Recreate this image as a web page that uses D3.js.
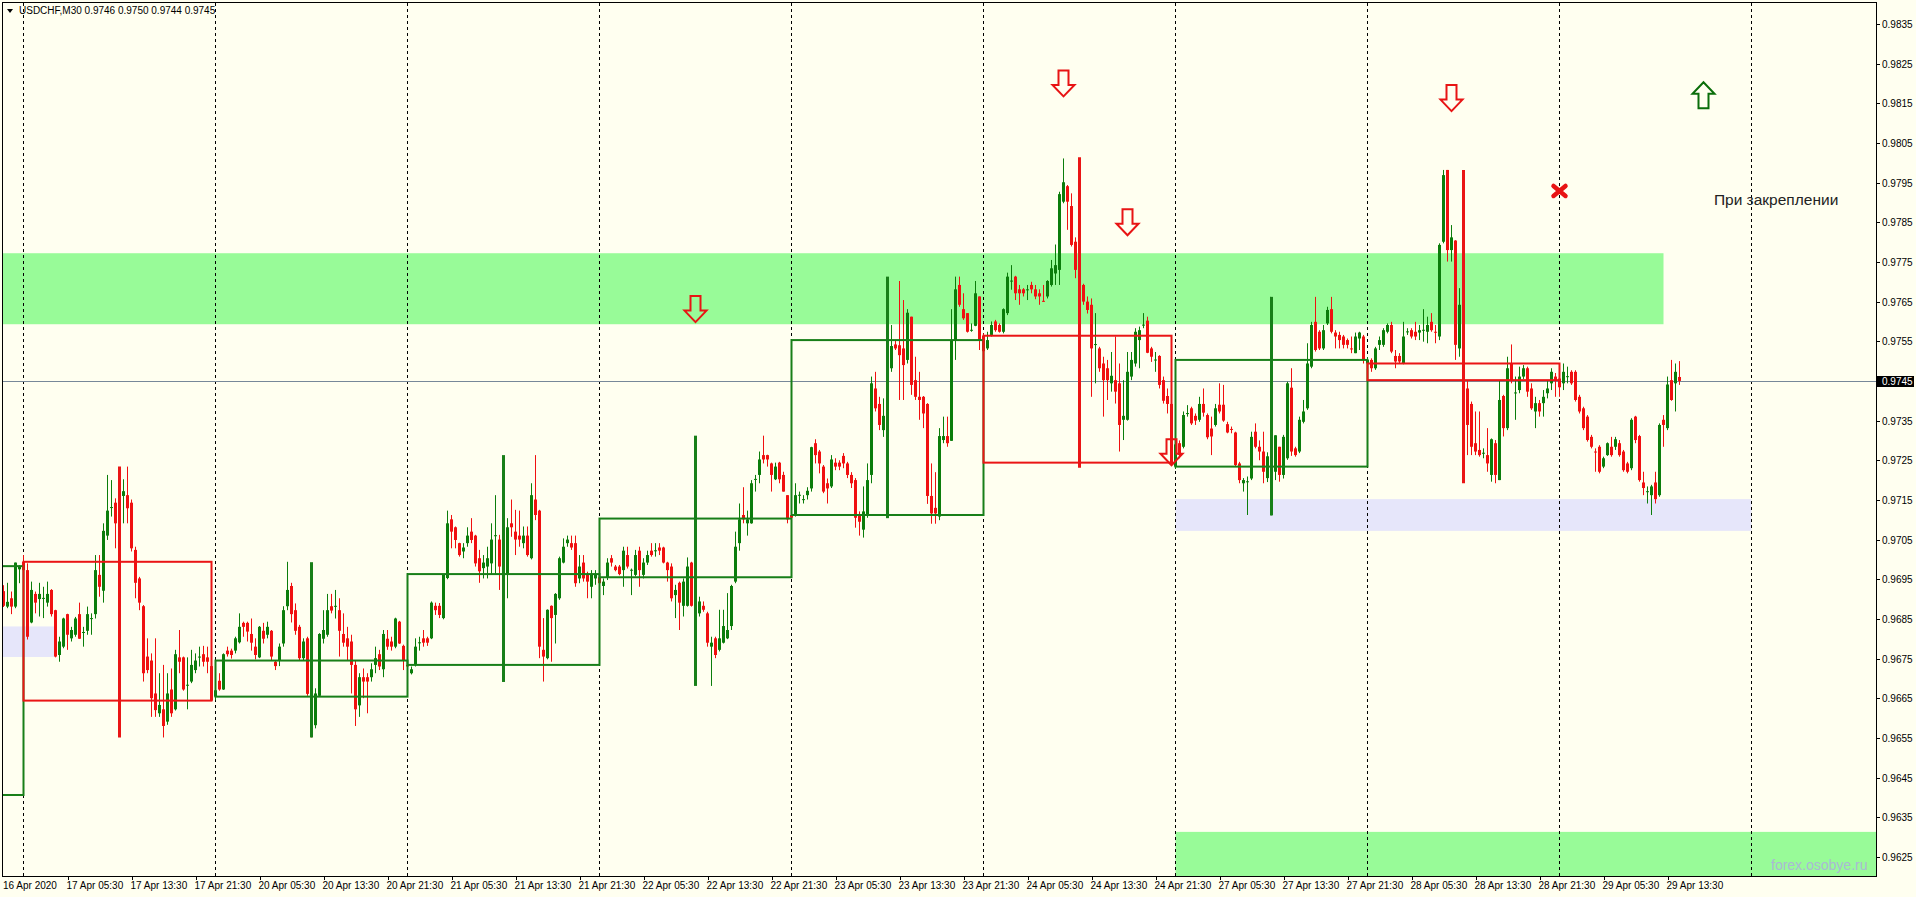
<!DOCTYPE html>
<html><head><meta charset="utf-8">
<script src="https://cdn.jsdelivr.net/npm/d3@7"></script>
<style>html,body{margin:0;padding:0;background:#fffff0;overflow:hidden}</style>
</head><body><svg id="c" width="1916" height="897"></svg>
<script>
// ---- DATA (prices in pips: 9745 = 0.9745), each bar [open, high, low, close] ----
const day16=[[9692,9693.5,9688,9688.3],[9688.1,9694.1,9687.7,9689.3],[9690.2,9691.9,9686.2,9688.1],[9688.1,9699.2,9687.7,9699.2],[9697.5,9698.5,9694,9698.3]];
const day17=[[9699.4,9701.1,9695.5,9697.3],[9697.3,9699,9679.8,9680.5],[9684.1,9694.4,9683.9,9692.3],[9691.3,9691.9,9686.4,9689.1],[9690,9694.1,9685.6,9691.3],[9690.2,9693.1,9685.2,9690.3],[9689.1,9694.4,9688.1,9691.3],[9692.3,9692.5,9685.6,9686.2],[9687.2,9687.3,9675.3,9675.5],[9675.9,9680.5,9674.2,9679.3],[9678,9685.3,9677.6,9685.1],[9686.2,9686.3,9677.2,9681],[9680.1,9683,9679.3,9682.2],[9681,9685.5,9680.5,9685.1],[9686.2,9689.1,9680,9680],[9681.5,9683,9678,9681.7],[9682,9688.1,9681,9686.2],[9685.1,9686.4,9681,9685.2],[9686.2,9701.1,9685.1,9697.3],[9696.1,9701.1,9690.6,9693.1],[9692.1,9709.1,9689.1,9707.2],[9706,9721.3,9704.9,9712.3],[9713,9720,9710.8,9713.2],[9714.3,9715.4,9702.8,9709.1],[9709.1,9716,9706,9714],[9716,9720.2,9709.1,9717.2],[9716.2,9723.4,9709.1,9712.9],[9714.3,9715.1,9702,9702.8],[9702.4,9703.2,9690.2,9694.1],[9695.2,9695.6,9687.2,9689.1],[9688.2,9688.5,9669.2,9671.3],[9675.5,9680.1,9671.3,9672.1],[9674.5,9676.3,9660.3,9665],[9666.2,9680.1,9660.3,9662],[9661.2,9671.3,9660.3,9663.3],[9662.2,9673.4,9655.1,9658],[9659.1,9671.3,9658.3,9666.2],[9667.2,9672.5,9660.3,9661.2],[9662.2,9677.2,9661.9,9676.1],[9675.3,9682.2,9671.3,9674.2],[9675.3,9675.5,9666.9,9667.2],[9668.3,9675.3,9662.2,9668.4],[9669.2,9677.2,9668.8,9673.4],[9672.1,9676.3,9671.3,9674.5],[9675.4,9678,9673,9675.5],[9676.1,9678.2,9673,9674.2],[9675.3,9678,9671.3,9674.2],[9673.1,9673.4,9664.4,9664.4]];
const day20=[[9665.4,9668,9664.5,9667],[9669.4,9671.3,9666.9,9667.2],[9667.2,9676.3,9667.1,9676.1],[9677,9678,9675.5,9676.1],[9677,9677.5,9675,9675.9],[9677,9680.5,9676.3,9680.1],[9679.1,9686.4,9678.8,9683],[9684,9684.3,9680.5,9683],[9684,9684.3,9679.3,9681.8],[9681.2,9685.1,9677,9679],[9678,9680.1,9674.8,9675.9],[9675.3,9683.2,9675.1,9683],[9682,9684,9678.8,9680],[9681,9684.3,9680.1,9683],[9682,9682.2,9674.6,9675.5],[9674.2,9674.6,9672.1,9673.1],[9674.5,9678.8,9673.1,9678],[9678.8,9688.2,9678,9687.2],[9688.2,9699.4,9687.2,9692.3],[9693.3,9694.1,9684.1,9686.2],[9687.2,9688.9,9681,9682],[9683,9683.5,9674.5,9675.1],[9675.1,9680.1,9674.6,9679.3],[9680.1,9680.5,9665.6,9666.1],[9666.1,9667.5,9655.1,9658.2],[9658.2,9667.5,9657.4,9666.2],[9665.6,9681.4,9665.4,9681.2],[9680,9687.2,9678.8,9682.2],[9681,9691.3,9680.5,9687.2],[9688.2,9691.3,9686.4,9687.1],[9688.2,9692.3,9685.1,9688.3],[9687.2,9690.2,9675.5,9682],[9681.2,9686.4,9678,9679],[9680.1,9683,9674.6,9678],[9679.3,9681,9666.2,9673.4],[9673.4,9674.6,9658,9662.2],[9663.2,9671.3,9660.3,9670.3],[9670.3,9672.5,9665,9669.2],[9670.3,9671.3,9661.2,9669.2],[9670.3,9673.8,9669.2,9672.3],[9673.4,9678,9671.3,9675.1],[9676.1,9677.2,9672.1,9673],[9672.3,9682.2,9670.3,9681.2],[9680,9682.2,9677.2,9678],[9679.3,9680.5,9677,9678],[9678,9685.3,9677.6,9685.1],[9684.3,9684.5,9678.7,9678.8],[9678.2,9678.5,9672.1,9674.5]];
const day21=[[9673.4,9675,9672,9673],[9671.3,9673,9671,9672.3],[9673.6,9680.1,9673,9678],[9679,9680.5,9677,9679.1],[9680.1,9682.2,9678,9679],[9680.1,9680.5,9678.2,9679],[9680.1,9689.4,9679.9,9689.1],[9688.3,9689.1,9686,9687.2],[9688.3,9689,9685.2,9686],[9685.2,9696.3,9684.9,9696.1],[9695.3,9712.3,9695,9709.1],[9710.1,9711.2,9702.8,9707],[9708.1,9708.3,9702.8,9704.9],[9704.1,9704.2,9700.7,9701.1],[9702,9704.1,9700.3,9703],[9704.1,9708.1,9703.2,9706],[9707,9710.4,9704.1,9704.9],[9706,9706.2,9698.2,9699],[9700.3,9702.4,9694.1,9697],[9697.8,9701.1,9695.2,9699.2],[9698.2,9703.2,9695.2,9700.3],[9699,9709.1,9696.3,9705],[9706,9716.2,9696.1,9706.1],[9705,9706.2,9692.3,9698.2],[9698.2,9700,9695.5,9696.3],[9696.3,9710.4,9690.2,9708.1],[9709.1,9715.1,9705.7,9708.1],[9707,9712.5,9701.1,9705],[9706,9712.3,9703.2,9705],[9704.1,9708.3,9702.8,9706],[9706,9708.3,9700.7,9701.1],[9700.3,9719.2,9700,9716.2],[9715.1,9726.3,9709.9,9711.2],[9712.3,9712.5,9675.1,9678],[9677.2,9685.2,9669.2,9675.5],[9675.1,9687.4,9674.8,9687.3],[9688.3,9688.4,9674.2,9685.2],[9686,9691.5,9678.8,9691.3],[9690.2,9700.7,9689.8,9700.3],[9699.2,9705.3,9699,9703.2],[9704.1,9706,9703.2,9705],[9704.1,9706,9702.4,9703],[9704.1,9706,9693.1,9694],[9695.2,9701.1,9694,9698.2],[9699.2,9701.1,9694.4,9695.2],[9696.3,9696.9,9690.2,9694.4],[9693.1,9697.3,9690.2,9696.3],[9695.2,9697.3,9693.6,9696.3]];
const day22=[[9695.5,9696.5,9693,9694],[9693.3,9695.2,9691,9694.4],[9695.5,9700.3,9694.8,9699.2],[9700.3,9701.1,9698.2,9699.2],[9698.2,9698.6,9697,9697.3],[9698.2,9698.6,9696,9696.3],[9697.3,9703.2,9693.1,9702.2],[9701.1,9703.2,9697.7,9698.2],[9697.3,9697.7,9691,9697.4],[9696.1,9702.4,9695.7,9701.1],[9702.2,9703.2,9693.1,9697.3],[9696.1,9700.3,9695.2,9699.2],[9699.2,9702.2,9698.6,9701.1],[9702.2,9704.1,9700.7,9701.1],[9702.2,9704.1,9700.7,9702.3],[9703,9704.1,9701.1,9702.2],[9703,9703.2,9699,9699.2],[9699.2,9699.4,9694.4,9697.3],[9698.2,9699,9689.4,9690.2],[9691,9693.6,9685.2,9692.3],[9694.1,9694.4,9682.2,9689.1],[9688.3,9695.2,9685.6,9694.4],[9688.3,9700.5,9688.1,9698.2],[9699.2,9699.4,9688.1,9688.3],[9688.3,9690,9684,9686.4],[9686.4,9690.6,9685.6,9689.4],[9688.3,9689.4,9686.8,9687.3],[9686.4,9686.8,9678,9679],[9678,9680.5,9668.1,9679],[9680.1,9680.5,9675.1,9675.9],[9677.2,9687.3,9676.8,9680.1],[9679,9687.3,9678.8,9683.2],[9680.1,9691.5,9679.9,9682.2],[9683.2,9693.6,9682.2,9693.3],[9694.4,9707,9694,9703.2],[9704.1,9714.1,9702.2,9710.1],[9711.2,9718.2,9709.1,9710.1],[9709.1,9712.3,9706,9710.1],[9709.1,9720,9709,9719.2],[9720.2,9721.3,9717.1,9720.3],[9721.3,9727.2,9719.2,9725.2],[9726.3,9731.2,9724.2,9725.2],[9726.3,9726.4,9723.4,9725.2],[9724.2,9724.4,9717.1,9721.3],[9720.2,9724.4,9720,9723.4],[9724.4,9724.6,9719.2,9720.2],[9721.3,9722.1,9717.1,9717.1],[9716.2,9716.2,9709.1,9710.1]];
const day23=[[9711.2,9712,9709.9,9710.5],[9711.2,9719.2,9710.8,9716.2],[9716.2,9717.1,9714.1,9716.3],[9715.1,9716.2,9714.1,9715.2],[9716.2,9718.2,9715.1,9717.3],[9717.9,9728.4,9717.1,9728.3],[9729.3,9730.3,9724.2,9726.3],[9727.2,9727.6,9721.7,9724.2],[9723.4,9723.8,9716.7,9717.1],[9719.2,9720.4,9714.1,9717.9],[9718.4,9726.3,9718,9725.2],[9724.4,9725.5,9722.5,9723.4],[9724.4,9725,9722.5,9723.4],[9726.1,9726.8,9723,9724.2],[9724.2,9724.6,9720.5,9721.3],[9721.3,9722,9718,9719.2],[9720,9720.5,9708,9710.5],[9711,9712.1,9706,9709.5],[9707.5,9718.4,9705.5,9712.1],[9711.2,9724.2,9710.5,9720],[9721.3,9746.1,9719.2,9744.4],[9743.1,9747.3,9737.3,9738.1],[9739.2,9741,9732.6,9733.9],[9732.6,9740.6,9730.9,9736.2],[9736.2,9748,9735,9745],[9748.2,9759.1,9747.3,9753.8],[9754.2,9755.3,9752.8,9753.2],[9754,9770.2,9740.2,9751.5],[9753.2,9765.4,9740.2,9749],[9750.3,9763.1,9749.4,9762.2],[9761.2,9761.2,9741.5,9744],[9745.2,9751.1,9740.2,9741],[9741,9747.3,9735.2,9740.2],[9741,9741.2,9733.1,9736.8],[9739.2,9739.4,9714,9716],[9716,9724.2,9709,9711.6],[9713,9722,9709,9711.6],[9710.8,9733.1,9709.9,9731.1],[9730.1,9736,9729.3,9731.1],[9731.1,9736,9728.4,9729.3],[9729.9,9763.1,9729.9,9755.3],[9755.3,9771.3,9750.3,9768.1],[9769.2,9771.3,9763.7,9764.2],[9763.1,9767.1,9760.4,9760.8],[9762.1,9762.1,9757.2,9757.4],[9757.8,9759.5,9757.4,9757.9],[9758.9,9770.2,9758.8,9767.1],[9766.3,9766.3,9752.8,9755.3]];
const day24=[[9756.4,9757,9751,9752.5],[9753.2,9757.4,9752.8,9755.3],[9756.6,9760,9756.2,9759.1],[9760,9760.4,9757.4,9757.8],[9759.1,9759.5,9757.2,9757.4],[9757.4,9763.3,9757,9763.1],[9762.1,9772.3,9761.6,9771.3],[9770.2,9774.2,9768,9770.3],[9771.3,9771.5,9765.4,9767.1],[9768.1,9769.2,9764.2,9767.1],[9768.1,9768.4,9766.3,9767.1],[9768,9769.2,9765.4,9768.1],[9769.2,9770,9767.1,9768.1],[9768.1,9769.2,9765.6,9766.3],[9767.1,9768.1,9764.2,9766.3],[9765.2,9769.2,9765,9765.1],[9766.3,9770.4,9765.8,9770.2],[9769.2,9775.5,9768.8,9773.4],[9772.1,9779.4,9769.2,9774.2],[9773,9792.7,9769.2,9792.1],[9790.2,9801.1,9789.8,9795.1],[9794.1,9794.4,9783.1,9790.2],[9789.1,9792.3,9778.9,9779.3],[9780.1,9781.2,9770.9,9773],[9773,9775,9768,9769],[9769.2,9769.5,9764.2,9765],[9765,9766.3,9762,9762.9],[9764.2,9765.8,9741,9753.2],[9754.2,9762.1,9744.4,9754.3],[9753.2,9753.6,9747.3,9748.2],[9749.4,9751.1,9736,9745.2],[9748.2,9750.3,9740.2,9745.2],[9744.4,9752.3,9742.3,9746.3],[9745.2,9756.2,9739.3,9742.3],[9744.4,9749.4,9727.2,9733.9],[9735.2,9745.2,9730.1,9736.2],[9735.2,9752.3,9735,9747.3],[9746.1,9752.3,9745.2,9750.3],[9749.4,9758.3,9748.6,9757.4],[9755.3,9758.7,9748.2,9757.8],[9759.1,9762.1,9758.3,9759.2],[9760.2,9761.2,9752,9752.1],[9753.2,9753.6,9749.8,9751.1],[9750.3,9752.3,9747.3,9750.4],[9751.3,9751.5,9743.1,9744],[9745.2,9746.1,9739.3,9740],[9741.2,9743.1,9736.8,9739.2],[9739.2,9739.4,9723.8,9724.2]];
const day27=[[9723.4,9729.5,9722.8,9729],[9729.3,9730,9725.5,9726.3],[9728.4,9737.3,9728,9736.4],[9736.8,9738.9,9736,9736.9],[9738.1,9738.5,9733.9,9734.3],[9736.2,9736.8,9733.9,9735],[9735.2,9741,9734.7,9739.2],[9739.2,9743.1,9736,9737],[9736.4,9736.8,9730.3,9730.8],[9733,9736,9726.3,9731],[9733.9,9739.2,9733.5,9738.1],[9739,9744.4,9736.8,9737.3],[9739,9744,9734.7,9735],[9734.1,9734.7,9731.8,9732],[9732.9,9733.5,9731.8,9732.8],[9732,9732.2,9723.4,9723.8],[9724.2,9724.6,9719.2,9720],[9719.2,9720.5,9717.1,9720],[9719.6,9720.9,9711.2,9719.7],[9720.4,9732.2,9720,9730.9],[9732.2,9734.3,9728,9728.4],[9728.4,9730,9725,9727.2],[9727.2,9732.2,9719.2,9722.1],[9720.5,9727,9719.5,9726],[9722.1,9728,9711.1,9725],[9722.1,9731.3,9720,9731.3],[9728.4,9728.4,9719.6,9721.3],[9721.3,9731.4,9720.4,9730.9],[9725.5,9744.8,9725.1,9744.4],[9743.3,9748.2,9726.1,9727.2],[9728,9728.4,9725.9,9726.3],[9727.2,9736,9726.8,9735.2],[9734.7,9740.2,9734.3,9737.3],[9738.1,9754.5,9737.7,9749.4],[9748.6,9759.9,9748.2,9759.1],[9759.9,9766.2,9752.4,9752.8],[9757.4,9757.8,9752.8,9753.2],[9753.2,9759.1,9752.8,9757.8],[9759.5,9763.7,9759.1,9762.9],[9763.1,9766.2,9757,9757.4],[9757.2,9757.8,9753.2,9756.2],[9756.6,9757.4,9753.2,9755.3],[9756.2,9756.6,9753.2,9754.1],[9755.3,9755.7,9753.2,9754.1],[9753.2,9756.2,9752,9753.1],[9752,9757.2,9752,9756.2],[9755.7,9757.4,9752.8,9757.2],[9756.2,9756.6,9749.4,9750.3]];
const day28=[[9749.4,9751,9748.5,9750.3],[9750.3,9750.7,9747.3,9748.2],[9748.2,9753.6,9747.8,9753.2],[9754.1,9756.2,9752.8,9755.3],[9754.1,9758.3,9753.6,9757.8],[9757.4,9759.5,9757,9759.1],[9759.1,9759.9,9752,9752.4],[9751.3,9752.8,9748.2,9749.9],[9751.3,9752,9749.4,9749.9],[9749.4,9759.9,9749.2,9756.2],[9757.4,9758.3,9756.6,9757.5],[9757.8,9758.3,9755.7,9756.2],[9757.4,9759.9,9755.3,9756.2],[9757.2,9759.1,9755.3,9757.8],[9757.8,9763.1,9754.9,9757.9],[9757.4,9761.2,9754.5,9759.1],[9759.9,9762.1,9757.4,9757.8],[9757.4,9759.1,9754.5,9757.3],[9756.2,9779.7,9755.3,9779.3],[9780.1,9798.2,9779.7,9796.9],[9798.2,9798.2,9775.1,9778],[9778,9784.3,9775.1,9781.2],[9780.4,9780.5,9750.3,9754.1],[9753.2,9768.4,9751.1,9764.2],[9764.2,9766,9740,9743.1],[9743.1,9745.2,9726.3,9733.9],[9739.2,9739.8,9726.3,9728.4],[9729.3,9737.3,9726.3,9727.2],[9727.6,9737.3,9725.9,9726.3],[9726.8,9728,9725.5,9726.9],[9726.3,9733.1,9722.1,9724.2],[9721.3,9730.5,9719.6,9730.3],[9729.3,9730.1,9719.2,9721.3],[9720,9745.2,9720,9740.2],[9741.2,9741.5,9731,9733.1],[9733.1,9751.1,9732.6,9748.2],[9749.4,9754.2,9744.4,9745.2],[9742,9746.1,9735.2,9742.1],[9742.7,9748.6,9741.9,9746.1],[9746.1,9749,9745.5,9748.2],[9748.2,9748.6,9741,9742.3],[9743.1,9744.4,9737.7,9738.1],[9737.3,9741,9733.1,9739.4],[9739.4,9740.2,9736,9737.3],[9739.4,9742.7,9736,9741],[9741.9,9745.2,9740.6,9743.1],[9744.4,9748.2,9742.7,9747.3],[9746.1,9747,9741,9745.2]];
const day29=[[9745.6,9747.7,9741,9743.4],[9744.4,9749.4,9742.7,9747.3],[9746.1,9748.6,9744.4,9746.2],[9747.3,9747.7,9744,9744.4],[9747.3,9747.7,9739.8,9740.2],[9741,9741.5,9736.8,9737.3],[9738.1,9738.5,9732.6,9733.1],[9736,9736.4,9729.7,9730.1],[9730.9,9731.4,9728,9728.4],[9727.2,9728,9722.1,9727.1],[9728.4,9728.8,9721.7,9722.1],[9723.4,9725.9,9723,9725.5],[9726.3,9729.5,9726.1,9729.3],[9728.4,9730.9,9725.9,9726.3],[9728.4,9730.9,9727.6,9730.3],[9729.3,9730.1,9725.9,9726.3],[9727.2,9727.6,9722.1,9722.5],[9724.2,9724.6,9721.7,9722.1],[9723,9735.6,9722.5,9735.2],[9736,9736.2,9729.3,9730.1],[9731.1,9731.4,9719.6,9720],[9719.4,9722.1,9716.2,9718],[9717.1,9718.4,9714.1,9717.2],[9716.2,9718.8,9711.2,9718.4],[9719.4,9722.1,9714.1,9715.2],[9716.2,9734.3,9715.8,9733.9],[9735.2,9736.4,9728.4,9733.9],[9733.1,9746.1,9732.6,9744.1],[9745.2,9750.3,9740,9740.2],[9744.4,9749.4,9737.3,9747.3],[9746,9750,9744,9745]];

const dayDates=[16,17,20,21,22,23,24,27,28,29,30];
const dayBars=[day16,day17,day20,day21,day22,day23,day24,day27,day28,day29];
// daily (D1) candles overlaid as boxes: 16..28 Apr
const dOpen =[9640.6,9699.4,9665.4,9673.4,9695.5,9711.2,9756.4,9723.4,9749.4];
const dHigh =[9705,9723.4,9699.3,9726.3,9731.2,9771.3,9801.4,9766.2,9798.2];
const dLow  =[9630,9655.1,9655.1,9669.1,9668.1,9710.4,9723.1,9711.1,9719.2];
const dClose=[9698.3,9664.4,9674.5,9696.3,9710.3,9755.3,9724.4,9750.3,9745.2];

const yTickLabels=["0.9625","0.9635","0.9645","0.9655","0.9665","0.9675","0.9685","0.9695","0.9705","0.9715","0.9725","0.9735","0.9745","0.9755","0.9765","0.9775","0.9785","0.9795","0.9805","0.9815","0.9825","0.9835"];
const xTickLabels=["16 Apr 2020","17 Apr 05:30","17 Apr 13:30","17 Apr 21:30","20 Apr 05:30","20 Apr 13:30","20 Apr 21:30","21 Apr 05:30","21 Apr 13:30","21 Apr 21:30","22 Apr 05:30","22 Apr 13:30","22 Apr 21:30","23 Apr 05:30","23 Apr 13:30","23 Apr 21:30","24 Apr 05:30","24 Apr 13:30","24 Apr 21:30","27 Apr 05:30","27 Apr 13:30","27 Apr 21:30","28 Apr 05:30","28 Apr 13:30","28 Apr 21:30","29 Apr 05:30","29 Apr 13:30"];

// zones [fromBar, toBar, priceTop, priceBottom]
const zoneGreen=[[-60,410,9777.2,9759.3],[288,480,9631.3,9600]];
const zoneBlue=[[288,432,9715.2,9707.2],[-60,8,9683.1,9675.4]];
// arrows [bar, price(top)]
const arrowsDown=[[168,9766.4],[260,9823.3],[276,9788.3],[287,9730.3],[357,9819.6]];
const arrowsUp=[[420,9820.3]];
const crosses=[[384,9792.9]];
const notes=[[422.6,9789.4,"При закреплении"]];
const title="USDCHF,M30  0.9746 0.9750 0.9744 0.9745";
const bid=9745;

// ---- build bar list ----
const dayStart=[-48]; for(let d=1;d<dayDates.length;d++) dayStart.push(48*(d-1));
const bars=[];
dayBars.forEach((arr,d)=>{const off=(d===0)?48-arr.length:0;arr.forEach((b,j)=>bars.push({k:dayStart[d]+off+j,o:b[0],h:b[1],l:b[2],c:b[3]}));});

const W=1916,H=897,plotR=1876,plotB=876;
const x=d3.scaleLinear().domain([0,1]).range([23.5,27.5]);
const y=d3.scaleLinear().domain([9835,9625]).range([24,24+210*3.966]);
const svg=d3.select('#c');
svg.append('rect').attr('width',W).attr('height',H).attr('fill','#fffff0');
svg.append('clipPath').attr('id','cp').append('rect').attr('x',3).attr('y',3).attr('width',plotR-3).attr('height',plotB-3);
const g=svg.append('g').attr('clip-path','url(#cp)');
const BULL='#0b7d0b',BEAR='#f01010';

// zones
g.selectAll('.zg').data(zoneGreen).join('rect').attr('x',d=>x(d[0])).attr('width',d=>x(d[1])-x(d[0])).attr('y',d=>y(d[2])).attr('height',d=>y(d[3])-y(d[2])).attr('fill','#98fb98');
g.selectAll('.zb').data(zoneBlue).join('rect').attr('x',d=>x(d[0])).attr('width',d=>x(d[1])-x(d[0])).attr('y',d=>y(d[2])).attr('height',d=>y(d[3])-y(d[2])).attr('fill','#e6e6fa');
// day separators
g.selectAll('.sep').data(dayStart.slice(1)).join('line').attr('x1',d=>x(d)).attr('x2',d=>x(d)).attr('y1',3).attr('y2',plotB).attr('stroke','#000').attr('stroke-dasharray','3,3').attr('stroke-width',1);
// bid line
g.append('line').attr('x1',0).attr('x2',plotR).attr('y1',Math.round(y(bid))+0.5).attr('y2',Math.round(y(bid))+0.5).attr('stroke','#778899').attr('stroke-width',1);
// candles
const cg=g.append('g');
cg.selectAll('.w').data(bars).join('line').attr('x1',d=>x(d.k)).attr('x2',d=>x(d.k)).attr('y1',d=>y(d.h)).attr('y2',d=>y(d.l)).attr('stroke',d=>d.c>=d.o?BULL:BEAR).attr('stroke-width',1);
cg.selectAll('.b').data(bars).join('rect').attr('x',d=>x(d.k)-1.5).attr('width',3)
 .attr('y',d=>y(Math.max(d.o,d.c))).attr('height',d=>Math.max(1,Math.abs(y(d.o)-y(d.c))))
 .attr('fill',d=>d.c>=d.o?BULL:BEAR);
// daily boxes
const boxes=dOpen.map((o,d)=>{const s=dayStart[d];const e=(dayDates[d+1]-dayDates[d]===1)?dayStart[d+1]:s+47;return {s,e,m:s+24,o,h:dHigh[d],l:dLow[d],c:dClose[d]};});
const bg=g.append('g');
bg.selectAll('.bw').data(boxes).join('line').attr('x1',d=>x(d.m)).attr('x2',d=>x(d.m)).attr('y1',d=>y(d.h)).attr('y2',d=>y(d.l)).attr('stroke',d=>d.c>=d.o?'#187f18':'#ea1515').attr('stroke-width',3);
bg.selectAll('.br').data(boxes).join('rect').attr('x',d=>x(d.s)).attr('width',d=>x(d.e)-x(d.s)).attr('y',d=>y(Math.max(d.o,d.c))).attr('height',d=>Math.abs(y(d.o)-y(d.c))).attr('fill','none').attr('stroke',d=>d.c>=d.o?'#187f18':'#ea1515').attr('stroke-width',2);
// arrows
const downPts=[[-5,0],[5,0],[5,14.5],[11,14.5],[0,26],[-11,14.5],[-5,14.5]];
g.selectAll('.ad').data(arrowsDown).join('polygon').attr('points',d=>downPts.map(p=>[x(d[0])+p[0],y(d[1])+p[1]].join(',')).join(' ')).attr('fill','none').attr('stroke','#e81414').attr('stroke-width',2);
g.selectAll('.au').data(arrowsUp).join('polygon').attr('points',d=>downPts.map(p=>[x(d[0])+p[0],y(d[1])+26-p[1]].join(',')).join(' ')).attr('fill','none').attr('stroke','#0a6e0a').attr('stroke-width',2);
crosses.forEach(d=>{const cx=x(d[0]),cy=y(d[1]);
 g.append('path').attr('d',`M${cx-6},${cy-5}L${cx+6},${cy+5}M${cx+6},${cy-5}L${cx-6},${cy+5}`).attr('stroke','#e81414').attr('stroke-width',4.5).attr('stroke-linecap','round');});
g.selectAll('.nt').data(notes).join('text').attr('x',d=>x(d[0])).attr('y',d=>y(d[1])).text(d=>d[2]).attr('font-family','Liberation Sans, Arial, sans-serif').attr('font-size',15.5).attr('fill','#222');
// watermark
g.append('text').attr('x',1771).attr('y',870).text('forex.osobye.ru').attr('font-family','Liberation Sans, Arial, sans-serif').attr('font-size',14).attr('fill','#aab8d4');

// frame
svg.append('line').attr('x1',2.5).attr('x2',2.5).attr('y1',2).attr('y2',plotB).attr('stroke','#000');
svg.append('line').attr('x1',2).attr('x2',plotR).attr('y1',2.5).attr('y2',2.5).attr('stroke','#000');
svg.append('line').attr('x1',plotR+0.5).attr('x2',plotR+0.5).attr('y1',2).attr('y2',plotB+0.5).attr('stroke','#000');
svg.append('line').attr('x1',2).attr('x2',plotR+1).attr('y1',plotB+0.5).attr('y2',plotB+0.5).attr('stroke','#000');

// y axis
const font='Liberation Sans, Arial, sans-serif';
const ya=svg.append('g');
yTickLabels.forEach(t=>{const v=Math.round(parseFloat(t)*10000);const yy=Math.round(y(v))+0.5;
 ya.append('line').attr('x1',plotR).attr('x2',plotR+4).attr('y1',yy).attr('y2',yy).attr('stroke','#000');
 ya.append('text').attr('x',1882).attr('y',yy+3.5).text(t).attr('font-family',font).attr('font-size',10).attr('fill','#000');});
// bid label
ya.append('rect').attr('x',plotR+1).attr('y',Math.round(y(bid))-5).attr('width',37).attr('height',11).attr('fill','#000');
ya.append('text').attr('x',1882).attr('y',Math.round(y(bid))+4).text((bid/10000).toFixed(4)).attr('font-family',font).attr('font-size',10).attr('fill','#fff');
// x axis
const mon={};dayDates.forEach((d,i)=>mon[d]=dayStart[i]);
const xa=svg.append('g');
xTickLabels.forEach((t,i)=>{let k;
 if(i===0){k=-5.5;} else {const p=t.split(' ');const hm=p[2].split(':');k=mon[+p[0]]+(+hm[0])*2+(+hm[1])/30;}
 const xx=Math.round(x(k))+0.5;
 if(i>0) xa.append('line').attr('x1',xx).attr('x2',xx).attr('y1',plotB).attr('y2',plotB+4).attr('stroke','#000');
 xa.append('text').attr('x',i===0?3:xx-2).attr('y',889).text(t).attr('font-family',font).attr('font-size',10).attr('fill','#000');});
// title
svg.append('path').attr('d','M7,9L13,9L10,13Z').attr('fill','#000');
svg.append('text').attr('x',19).attr('y',14).text(title).attr('font-family',font).attr('font-size',10).attr('fill','#000');
</script></body></html>
